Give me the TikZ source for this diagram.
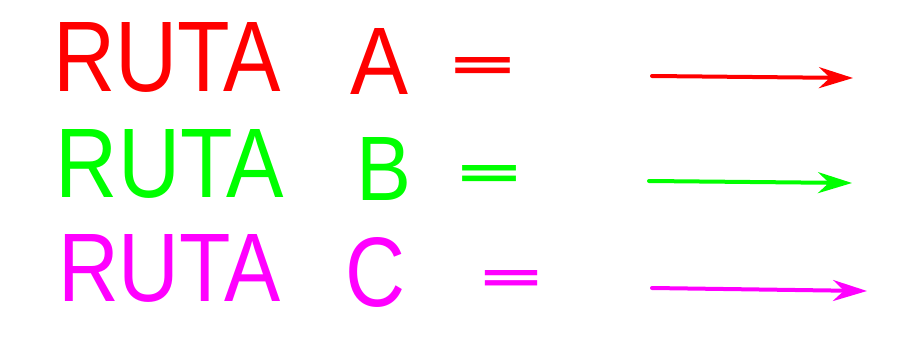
\documentclass[tikz,border=0pt]{standalone}
\usepackage{fontspec}
\setmainfont{Liberation Sans}
\newfontfamily\eqfont{DejaVu Sans}
\usetikzlibrary{arrows.meta}
\definecolor{rutaA}{HTML}{FF0000}
\definecolor{rutaB}{HTML}{00FF00}
\definecolor{rutaC}{HTML}{FF00FF}
\newcommand{\fitbox}[3]{\resizebox{#1pt}{#2pt}{\fontsize{60}{60}\selectfont #3}}
\newcommand{\eqbox}[2]{\resizebox{#1pt}{#2pt}{\fontsize{60}{60}\eqfont\bfseries =}}
\begin{document}
\begin{tikzpicture}[x=1pt,y=-1pt,
  lbl/.style={anchor=south west,inner sep=0pt,outer sep=0pt},
  route/.style={line width=4pt,line cap=round,-{Stealth[length=34pt,width=21pt,inset=11pt]}}]
\fill[white] (0,0) rectangle (924,343);
\useasboundingbox (0,0) rectangle (924,343);
% Row A
\node[lbl,text=rutaA] (ra) at (53,92) {\fitbox{228}{69}{RUTA}};
\node[lbl,text=rutaA] (la) at (350,94) {\fitbox{58}{66}{A}};
\node[lbl,text=rutaA] (ea) at (446,80) {\eqbox{73}{23}};
\coordinate (as) at (652,76);
\coordinate (ae) at (853,78);
\draw[route,rutaA] (as) -- (ae);
% Row B
\node[lbl,text=rutaB] (rb) at (56,198) {\fitbox{228}{68}{RUTA}};
\node[lbl,text=rutaB] (lb) at (356,200) {\fitbox{55}{63}{B}};
\node[lbl,text=rutaB] (eb) at (453,188) {\eqbox{72}{23}};
\coordinate (bs) at (649,181);
\coordinate (be) at (852,183);
\draw[route,rutaB] (bs) -- (be);
% Row C
\node[lbl,text=rutaC] (rc) at (58,302) {\fitbox{223}{67}{RUTA}};
\node[lbl,text=rutaC] (lc) at (345,307) {\fitbox{60}{69}{C}};
\node[lbl,text=rutaC] (ec) at (476,292) {\eqbox{70}{22}};
\coordinate (cs) at (652,288);
\coordinate (ce) at (867,291);
\draw[route,rutaC] (cs) -- (ce);
\end{tikzpicture}
\end{document}
